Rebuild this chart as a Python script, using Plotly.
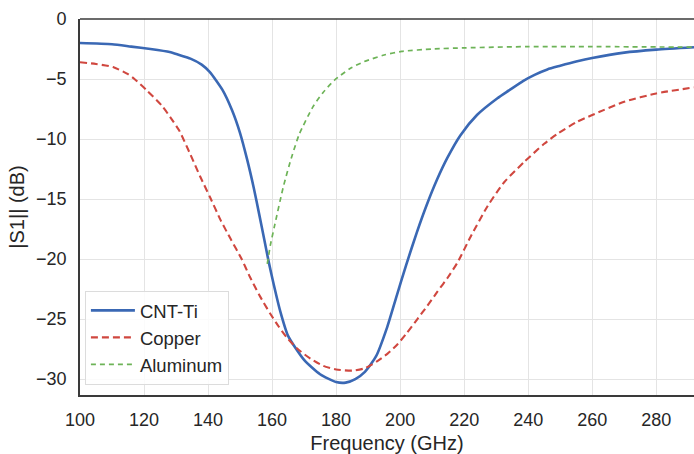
import plotly.graph_objects as go

# CNT-Ti
cnt_f = [100, 110, 116, 122, 128, 131, 134.5, 138, 140.5, 144.5, 147.5, 150, 152.2, 154.3, 156, 157.5, 159,
         160.5, 162.5, 165, 170, 175, 180, 183, 186, 189, 192.5, 195.8, 199, 202, 205.2, 208.3, 211.5, 214.7, 218.8,
         224, 230.4, 234, 238.5, 242, 246, 250, 255, 260, 270, 280, 291.8]
cnt_v = [-2.0, -2.1, -2.3, -2.5, -2.75, -3.0, -3.3, -3.8, -4.4, -5.9, -7.6, -9.5, -11.7, -14.1, -16.3, -18.3, -20.3,
         -22.1, -24.3, -26.4, -28.4, -29.6, -30.25, -30.3, -30.0, -29.4, -28.1, -25.8, -23.0, -20.4, -17.8, -15.5, -13.4, -11.6, -9.7,
         -8.0, -6.6, -5.95, -5.15, -4.65, -4.2, -3.9, -3.55, -3.25, -2.8, -2.55, -2.35]

# Copper
cu_f = [100, 105, 110.3, 115, 117, 120.7, 125.5, 128.5, 131, 134.5, 137.5, 140.7, 144, 147, 150.5, 153.1, 156, 159.3,
        162, 164.5, 168, 172, 176, 180, 185, 189, 192.9, 196, 199.2, 202, 205.4, 208.5, 211.7, 215, 217.9, 222.1,
        227.3, 232.5, 238.8, 245, 249, 255, 260, 270, 280, 291.8]
cu_v = [-3.6, -3.75, -4.0, -4.6, -5.0, -5.9, -7.2, -8.3, -9.3, -11.3, -13.1, -14.9, -16.8, -18.3, -20.0, -21.5, -23.0, -24.5,
        -25.6, -26.5, -27.5, -28.3, -28.9, -29.2, -29.3, -29.1, -28.5, -27.9, -27.1, -26.2, -25.0, -23.9, -22.7, -21.5, -20.3, -18.1,
        -15.6, -13.6, -11.9, -10.4, -9.6, -8.6, -8.0, -6.9, -6.2, -5.7]

# Aluminum
al_f = [158.5, 159.5, 160.8, 163.5, 166, 168.5, 172.8, 176, 179.5, 184.5, 188.8, 195, 200.5, 210, 220.5, 240, 260, 291.8]
al_v = [-20.4, -18.8, -17.2, -14.0, -11.6, -9.6, -7.3, -6.1, -5.1, -4.1, -3.55, -3.0, -2.7, -2.5, -2.4, -2.3, -2.3, -2.35]

x_ticks = [100, 120, 140, 160, 180, 200, 220, 240, 260, 280]
y_ticks = [0, -5, -10, -15, -20, -25, -30]

FONT = "Liberation Sans, Arial, sans-serif"

fig = go.Figure()
fig.add_trace(go.Scatter(x=cnt_f, y=cnt_v, mode="lines", name="CNT-Ti",
                         line=dict(color="#3a68b4", width=2.6, shape="spline", smoothing=0.6)))
fig.add_trace(go.Scatter(x=cu_f, y=cu_v, mode="lines", name="Copper",
                         line=dict(color="#d0473f", width=2.1, dash="7px,4px", shape="spline", smoothing=0.6)))
fig.add_trace(go.Scatter(x=al_f, y=al_v, mode="lines", name="Aluminum",
                         line=dict(color="#6db357", width=1.7, dash="5px,4px", shape="spline", smoothing=0.6)))

fig.update_layout(
    width=694, height=454,
    margin=dict(l=80, r=0, t=19, b=59, autoexpand=False),
    plot_bgcolor="white", paper_bgcolor="white",
    font=dict(family=FONT, size=18, color="#262626"),
    legend=dict(x=0.008, y=0.027, xanchor="left", yanchor="bottom",
                bgcolor="rgba(255,255,255,0.85)", bordercolor="#dcdcdc", borderwidth=1,
                font=dict(size=18.5, color="#262626"), tracegroupgap=0, itemwidth=44),
    xaxis=dict(range=[100, 291.8], tickvals=x_ticks, showgrid=True, gridcolor="#e4e4e4", gridwidth=1,
               showline=True, linecolor="#3a3a3a", linewidth=1.6, mirror=False, automargin=False,
               ticks="outside", ticklen=8, tickcolor="rgba(0,0,0,0)", zeroline=False,
               title=dict(text="Frequency (GHz)", font=dict(size=20), standoff=8)),
    yaxis=dict(range=[-31.33, 0], tickvals=y_ticks, showgrid=True, gridcolor="#e4e4e4", gridwidth=1,
               showline=True, linecolor="#3a3a3a", linewidth=1.6, mirror=False, automargin=False,
               ticks="outside", ticklen=8, tickcolor="rgba(0,0,0,0)", zeroline=False,
               title=dict(text="|S1|| (dB)", font=dict(size=20), standoff=6)),
)
# top frame line
fig.add_shape(type="line", xref="paper", yref="paper", x0=0, x1=1, y0=1, y1=1,
              line=dict(color="#3a3a3a", width=1.6))

fig.write_html("out.html", config={"displayModeBar": False},
               post_script="document.body.style.margin='0px';")
